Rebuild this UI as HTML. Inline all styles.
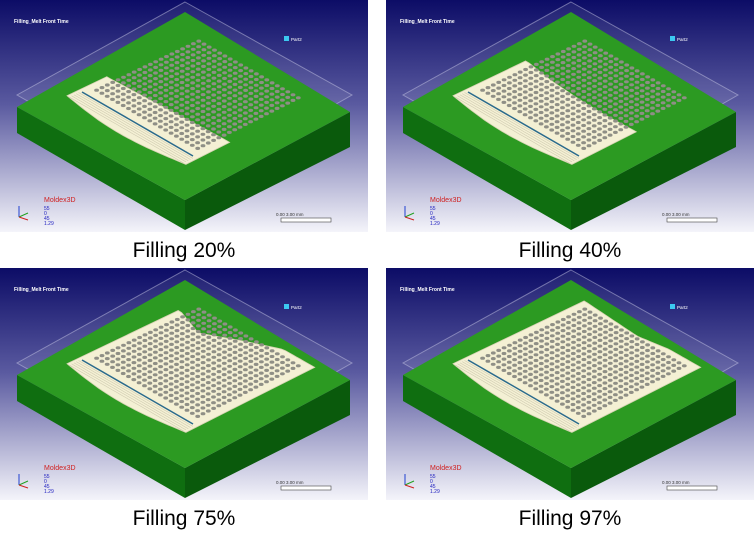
<!DOCTYPE html>
<html><head><meta charset="utf-8"><style>
body{margin:0;background:#fff;width:754px;height:541px;overflow:hidden}
svg{display:block}
text{font-family:"Liberation Sans",sans-serif}
</style></head><body>
<svg id="s" width="754" height="541" viewBox="0 0 754 541">
<defs>
<linearGradient id="bg" x1="0" y1="0" x2="0" y2="1">
<stop offset="0" stop-color="#0c0c66"/><stop offset="0.45" stop-color="#5a5aa0"/><stop offset="1" stop-color="#f4f4fa"/>
</linearGradient>
</defs>
</svg>
<script>
const fillPercents=[20,40,75,97];
const captions=["Filling 20%","Filling 40%","Filling 75%","Filling 97%"];
// melt front position (fraction across cavity) sampled at 5 points along the gate edge
const front20=[0.24,0.25,0.26,0.27,0.28];
const front40=[0.52,0.48,0.46,0.45,0.46];
const front75=[0.85,0.76,0.9,1.02,1.02];
const front97=[1.02,1.0,0.98,1.02,1.02];
const fronts=[front20,front40,front75,front97];
const origins=[[0,0],[386,0],[0,268],[386,268]];
const NS="http://www.w3.org/2000/svg";
const svg=document.getElementById('s');
function mk(tag,attrs,parent){const e=document.createElementNS(NS,tag);for(const k in attrs)e.setAttribute(k,attrs[k]);(parent||svg).appendChild(e);return e;}
const A=[82,92],B=[199,36],C=[308,98],D=[193,156];
function P(u,v){return[(1-u)*(1-v)*A[0]+(1-u)*v*D[0]+u*(1-v)*B[0]+u*v*C[0],(1-u)*(1-v)*A[1]+(1-u)*v*D[1]+u*(1-v)*B[1]+u*v*C[1]];}
function pts(a){return a.map(p=>p[0].toFixed(1)+','+p[1].toFixed(1)).join(' ');}
function interp(arr,v){const t=Math.max(0,Math.min(1,v))*(arr.length-1);const i=Math.min(arr.length-2,Math.floor(t));const r=t-i;return arr[i]*(1-r)+arr[i+1]*r;}
fillPercents.forEach((pct,k)=>{
  const [ox,oy]=origins[k];
  const g=mk('g',{transform:`translate(${ox},${oy})`});
  
  
  const bg=mk('rect',{x:0,y:0,width:368,height:232,fill:'url(#bg)'},g);
  
  mk('polygon',{points:'185,2 352,95 185,190 17,95',fill:'rgba(255,255,255,0.08)',stroke:'rgba(200,200,230,0.5)','stroke-width':1},g);
  const left=mk('polygon',{points:'17,107 185,200 185,230 17,133',fill:'#0f6e10'},g);
  
  const right=mk('polygon',{points:'185,200 350,112 350,147 185,230',fill:'#0a5a0c'},g);
  
  const top=mk('polygon',{points:'185,12 350,112 185,200 17,107',fill:'#2c9a22'},g);
  
  const fr=fronts[k];
  const poly=[];const N=32;
  for(let i=0;i<=N;i++){const v=-0.03+1.07*i/N;poly.push(P(-0.1-0.06*Math.sin(Math.PI*i/N),v));}
  for(let i=N;i>=0;i--){const v=-0.03+1.07*i/N;poly.push(P(interp(fr,v),v));}
  const cream=mk('polygon',{points:pts(poly),fill:'#f4f0d4',stroke:'#d8d4b4','stroke-width':0.8},g);
  
  for(let s=1;s<6;s++){const a=[];for(let i=0;i<=N;i++){const v=-0.01+1.03*i/N;a.push(P(-0.12+s*0.02,v));}
    mk('polyline',{points:pts(a),fill:'none',stroke:'#cfcab0','stroke-width':0.6},g);}
  for(let i=0;i<20;i++)for(let j=0;j<20;j++){
    const u=0.06+0.92*(i+0.5)/20,v=0.02+0.96*(j+0.5)/20;const p=P(u,v);
    const d=mk('ellipse',{cx:p[0].toFixed(1),cy:p[1].toFixed(1),rx:2.4,ry:1.6,fill:'#8f8f86'},g);
    
  }
  const a=P(0,0),b=P(0,1);
  mk('line',{x1:a[0],y1:a[1],x2:b[0],y2:b[1],stroke:'#2a6a8c','stroke-width':1.5},g);
  const t=mk('text',{x:14,y:23,'font-size':5,fill:'#fff','font-weight':'bold'},g);t.textContent='Filling_Melt Front Time';
  
  mk('rect',{x:284,y:36,width:5,height:5,fill:'#3cc8f0'},g);
  const lt=mk('text',{x:291,y:41,'font-size':4.5,fill:'#fff'},g);lt.textContent='Part2';
  
  const lg=mk('text',{x:44,y:202,'font-size':7,fill:'#d02020'},g);lg.textContent='Moldex3D';
  
  ['55','0','45','1.29'].forEach((s,i)=>{const e=mk('text',{x:44,y:210+i*5,'font-size':5,fill:'#2020c0'},g);e.textContent=s;});
  mk('line',{x1:19,y1:217,x2:19,y2:206,stroke:'#2040d0','stroke-width':1},g);
  mk('line',{x1:19,y1:217,x2:28,y2:213,stroke:'#20a020','stroke-width':1},g);
  mk('line',{x1:19,y1:217,x2:28,y2:220,stroke:'#d02020','stroke-width':1},g);
  mk('rect',{x:281,y:218,width:50,height:4,fill:'#fff',stroke:'#444','stroke-width':0.6},g);
  const sc=mk('text',{x:276,y:216,'font-size':4.5,fill:'#333'},g);sc.textContent='0.00                    3.00  mm';
  
  const cap=mk('text',{x:184,y:257,'font-size':21,fill:'#000','text-anchor':'middle'},g);cap.textContent=captions[k];
  
});
</script>
</body></html>
